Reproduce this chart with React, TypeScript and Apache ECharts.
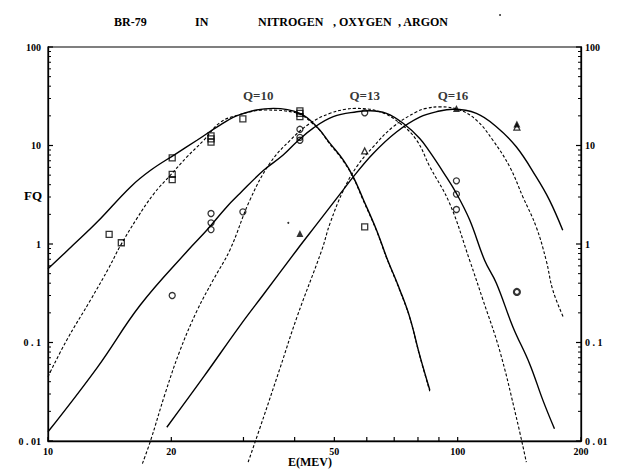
import React, { useEffect, useRef } from "react";
import * as echarts from "echarts";

// ---- axis ticks / labels ----
const xLabelValues = [10, 20, 50, 100, 200];
const xTickValues = [10, 20, 30, 40, 50, 60, 70, 80, 90, 100, 200];
const yLabelValues = [0.01, 0.1, 1, 10, 100];
const yLabelTexts = ["0 . 01", "0 . 1", "1", "10", "100"];
const yMinorTicks = [
  0.02, 0.03, 0.04, 0.05, 0.06, 0.07, 0.08, 0.09,
  0.2, 0.3, 0.4, 0.5, 0.6, 0.7, 0.8, 0.9,
  2, 3, 4, 5, 6, 7, 8, 9,
  20, 30, 40, 50, 60, 70, 80, 90,
];
const X_MIN = 10;
const X_MAX = 200;
const Y_MIN = 0.01;
const Y_MAX = 100;

// ---- curves [E (MeV), FQ] ----
const solidQ10: [number, number][] = [
  [10, 0.56], [11.5, 0.97], [13.2, 1.68], [15.9, 3.8], [17.8, 5.6], [20.3, 8.0], [23.1, 11.3],
  [26.3, 16.1], [29.4, 20.6], [35.5, 23.8], [41.2, 21.2], [45.3, 15.5], [48.8, 10.5],
  [52.6, 7.1], [55.6, 4.8], [58.8, 2.85], [63.4, 1.38], [67.0, 0.74], [72.3, 0.34],
  [76.4, 0.18], [80.8, 0.074], [85.5, 0.033],
];
const dashedQ10: [number, number][] = [
  [10, 0.045], [11.1, 0.105], [12.7, 0.27], [14.1, 0.58], [15.0, 0.95], [16.5, 1.83],
  [18.1, 3.21], [19.9, 5.0], [21.8, 7.6], [24.0, 11.3], [26.3, 17.1], [29.4, 20.6],
  [33.9, 22.9], [40.0, 21.6], [45.3, 15.3], [48.8, 10.3], [52.6, 6.95], [55.6, 4.72],
  [58.8, 2.78], [63.4, 1.36], [67.0, 0.73], [72.3, 0.335], [76.4, 0.178], [80.8, 0.073],
  [85.5, 0.032],
];
const solidQ13: [number, number][] = [
  [10, 0.0124], [13.2, 0.056], [16.8, 0.24], [22.0, 0.87], [24.4, 1.38], [27.3, 2.38],
  [29.4, 3.26], [33.6, 5.6], [37.5, 8.0], [40.5, 10.9], [44.4, 15.0], [49.7, 19.6],
  [56.7, 22.0], [61.1, 22.5], [67.0, 21.2], [73.6, 16.8], [80.8, 11.8], [85.5, 8.6],
  [92.1, 5.4], [99.3, 3.26], [107, 1.75], [116.4, 0.68], [124.3, 0.4], [136.4, 0.144],
  [149.8, 0.061], [161.4, 0.026], [172.3, 0.0133],
];
const dashedQ13: [number, number][] = [
  [17.0, 0.0059], [17.8, 0.0101], [19.3, 0.03], [21.0, 0.083], [23.1, 0.21], [25.3, 0.43],
  [27.8, 0.87], [31.1, 2.79], [34.8, 6.6], [39.0, 11.3], [43.6, 16.8], [48.8, 21.2],
  [53.2, 23.3], [56.3, 23.8], [64.6, 22.0], [72.3, 16.8], [79.4, 11.3], [85.5, 6.1],
  [95.6, 2.58], [107, 0.68], [115.3, 0.27], [126.6, 0.083], [139, 0.0175], [147.1, 0.0061],
];
const solidQ16: [number, number][] = [
  [19.5, 0.0138], [24.0, 0.045], [29.4, 0.1475], [33.6, 0.309], [40.5, 0.87], [45.3, 1.59],
  [51.6, 3.21], [55.6, 4.8], [62.2, 8.3], [70.9, 13.7], [80.8, 19.4], [90.4, 22.4],
  [97.4, 23.3], [111.1, 21.2], [124.3, 15.5], [139, 9.7], [155.5, 4.8], [167.5, 2.79],
  [180.5, 1.38],
];
const dashedQ16: [number, number][] = [
  [30.8, 0.0061], [33.6, 0.0175], [36.9, 0.056], [40.5, 0.18], [46.6, 0.87], [48.8, 1.62],
  [52.6, 3.5], [56.7, 6.1], [62.2, 9.7], [69.6, 15.5], [79.4, 22.0], [83.9, 23.8],
  [90.4, 24.7], [101.1, 22.9], [111.1, 18.1], [121.9, 11.3], [133.9, 6.1], [144.3, 3.0],
  [155.5, 1.49], [164.5, 0.68], [170.7, 0.34], [181.2, 0.18],
];

// ---- measured points ----
const squares: [number, number][] = [
  [14.1, 1.25], [15.1, 1.03], [20.1, 7.5], [20.1, 5.1], [20.1, 4.5], [25, 12.5],
  [25, 11.7], [25, 10.8], [29.9, 18.6], [41.2, 22.5], [41.2, 21.2], [41.2, 19.6],
  [59.3, 1.49],
];
const circles: [number, number][] = [
  [25, 2.04], [25, 1.64], [25, 1.4], [29.9, 2.12], [41.2, 14.6], [41.2, 12.1],
  [41.2, 11.3], [59.3, 21.5], [99.3, 4.38], [99.3, 3.21], [99.3, 2.24], [20.1, 0.3],
];
const boldCircles: [number, number][] = [[139.5, 0.326]];
const filledTriangles: [number, number][] = [[41.2, 1.28], [99.3, 23.8], [139.5, 16.5]];
const hollowTriangles: [number, number][] = [[59.3, 8.8], [139.5, 15.4]];
const dots: [number, number][] = [[38.6, 1.64]];

// ---- curve labels ----
const qLabelNames = ["Q=10", "Q=13", "Q=16"];
const qLabelE = [32.6, 59.3, 97.4];
const qLabelFQ = [32.5, 32.5, 32.0];

const FONT = '"Liberation Serif", "Times New Roman", serif';

export default function App() {
  const ref = useRef<HTMLDivElement>(null);

  useEffect(() => {
    if (!ref.current) return;
    const chart = echarts.init(ref.current, undefined, { renderer: "svg" });

    const lineSeries = (data: [number, number][], dashed: boolean) => ({
      type: "line",
      data,
      showSymbol: false,
      symbol: "none",
      smooth: 0.4,
      clip: false,
      silent: true,
      z: 2,
      lineStyle: dashed
        ? { color: "#000", width: 1.1, type: [3, 2] }
        : { color: "#000", width: 1.4, type: "solid" },
    });

    // tick marks drawn through the axes' own scales (custom series)
    const tickSeries = (data: number[][], dx: number, dy: number, width: number) => ({
      type: "custom",
      coordinateSystem: "cartesian2d",
      data,
      silent: true,
      clip: false,
      z: 4,
      renderItem: (_p: any, api: any) => {
        const pt = api.coord([api.value(0), api.value(1)]);
        return {
          type: "line",
          shape: { x1: pt[0], y1: pt[1], x2: pt[0] + dx, y2: pt[1] + dy },
          style: { stroke: "#000", lineWidth: width },
        };
      },
    });

    const hollow = { color: "rgba(0,0,0,0)", borderColor: "#000", borderWidth: 1.3 };

    const yAxisBase = {
      type: "log",
      logBase: 10,
      min: Y_MIN,
      max: Y_MAX,
      splitLine: { show: false },
      minorTick: { show: false },
      axisTick: { show: false },
    };

    const labelStyle = {
      color: "#000",
      fontFamily: FONT,
      fontWeight: "bold",
      fontSize: 10,
    };

    const fmtY = (v: number) => {
      const i = yLabelValues.findIndex((t) => Math.abs(Math.log10(t) - Math.log10(v)) < 1e-6);
      return i >= 0 ? yLabelTexts[i] : "";
    };

    const textStyle = (text: string, size: number) => ({
      text,
      fill: "#000",
      fontFamily: FONT,
      fontWeight: "bold",
      fontSize: size,
      verticalAlign: "middle",
      textVerticalAlign: "middle",
    });

    chart.setOption({
      animation: false,
      backgroundColor: "#fff",
      grid: {
        left: 48,
        right: 38,
        top: 47,
        bottom: 28,
        show: true,
        borderColor: "#000",
        borderWidth: 1.2,
        containLabel: false,
        outerBoundsMode: "none",
      },
      xAxis: [
        {
          type: "log",
          logBase: 10,
          min: X_MIN,
          max: X_MAX,
          position: "bottom",
          axisLine: { show: true, lineStyle: { color: "#000", width: 1.3 } },
          axisTick: { show: false },
          axisLabel: {
            ...labelStyle,
            margin: 5,
            customValues: xLabelValues,
            formatter: (v: number) => String(Math.round(v)),
          },
          splitLine: { show: false },
          minorTick: { show: false },
        },
      ],
      yAxis: [
        {
          ...yAxisBase,
          position: "left",
          axisLine: { show: true, lineStyle: { color: "#000", width: 1.3 } },
          axisLabel: { ...labelStyle, margin: 7, customValues: yLabelValues, formatter: fmtY },
        },
        {
          ...yAxisBase,
          position: "right",
          axisLine: { show: true, lineStyle: { color: "#000", width: 1.3 } },
          axisLabel: { ...labelStyle, margin: 4, customValues: yLabelValues, formatter: fmtY },
        },
      ],
      series: [
        lineSeries(solidQ10, false),
        lineSeries(dashedQ10, true),
        lineSeries(solidQ13, false),
        lineSeries(dashedQ13, true),
        lineSeries(solidQ16, false),
        lineSeries(dashedQ16, true),
        tickSeries(xTickValues.map((v) => [v, Y_MIN]), 0, -4, 1.2),
        tickSeries(yLabelValues.map((v) => [X_MIN, v]), 5, 0, 1.2),
        tickSeries(yMinorTicks.map((v) => [X_MIN, v]), 3, 0, 1),
        tickSeries(yLabelValues.map((v) => [X_MAX, v]), -5, 0, 1.2),
        tickSeries(yMinorTicks.map((v) => [X_MAX, v]), -3, 0, 1),
        { type: "scatter", data: squares, symbol: "rect", symbolSize: 6, itemStyle: hollow, z: 5, silent: true },
        { type: "scatter", data: circles, symbol: "circle", symbolSize: 6, itemStyle: hollow, z: 5, silent: true },
        {
          type: "scatter",
          data: boldCircles,
          symbol: "circle",
          symbolSize: 6,
          itemStyle: { ...hollow, borderWidth: 2.2 },
          z: 5,
          silent: true,
        },
        { type: "scatter", data: hollowTriangles, symbol: "triangle", symbolSize: 6, itemStyle: hollow, z: 5, silent: true },
        { type: "scatter", data: filledTriangles, symbol: "triangle", symbolSize: 7, itemStyle: { color: "#000" }, z: 6, silent: true },
        { type: "scatter", data: dots, symbol: "circle", symbolSize: 2, itemStyle: { color: "#000" }, z: 6, silent: true },
        {
          type: "scatter",
          data: qLabelNames.map((n, i) => ({ name: n, value: [qLabelE[i], qLabelFQ[i]] })),
          symbolSize: 0,
          silent: true,
          z: 7,
          label: {
            show: true,
            position: "inside",
            formatter: (p: any) => p.name,
            color: "#000",
            fontFamily: FONT,
            fontWeight: "bold",
            fontSize: 13,
          },
        },
      ],
      graphic: [
        ...[
          ["BR-79", 114],
          ["IN", 195],
          ["NITROGEN", 258],
          [", OXYGEN", 333],
          [", ARGON", 398],
        ].map(([t, x]) => ({
          type: "text",
          x: x as number,
          y: 22,
          silent: true,
          style: textStyle(t as string, 12),
        })),
        { type: "text", x: 24, y: 195, silent: true, style: textStyle("FQ", 13) },
        { type: "text", x: 288, y: 461.5, silent: true, style: textStyle("E(MEV)", 12) },
        { type: "circle", shape: { cx: 500, cy: 15, r: 0.8 }, style: { fill: "#000" }, silent: true },
      ],
    });

    return () => chart.dispose();
  }, []);

  return (
    <div
      ref={ref}
      style={{ position: "fixed", left: 0, top: 0, width: 619, height: 469, background: "#fff" }}
    />
  );
}
